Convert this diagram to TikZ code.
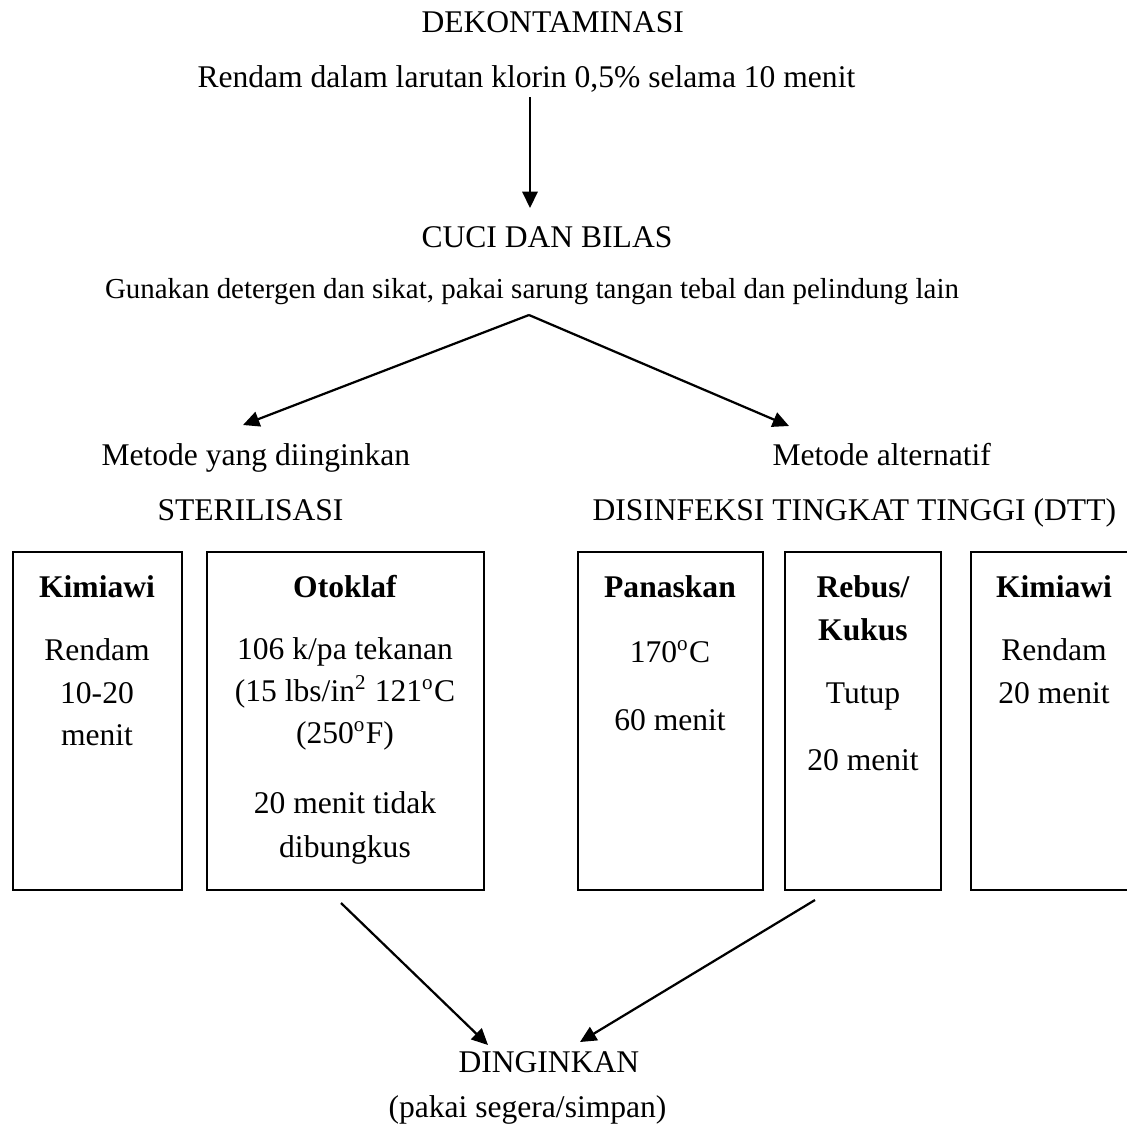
\documentclass[tikz,border=0pt]{standalone}
\usepackage{fontspec}
\setmainfont{Liberation Serif}
\usetikzlibrary{arrows.meta}

\begin{document}
\begin{tikzpicture}[
    x=0.38pt, y=-0.38pt,
    >={Triangle[length=6.2pt, width=5.8pt]},
    every node/.style={font=\fontsize{12}{16}\selectfont, inner sep=0pt},
    stagetext/.style={anchor=base west},
    boxtext/.style={anchor=base},
    boxhead/.style={anchor=base, font=\fontsize{12}{16}\selectfont\bfseries},
    flow/.style={->, line width=0.85pt, color=black},
    methodbox/.style={draw=black, line width=0.8pt}
]

    % Page frame
    \useasboundingbox (0,0) rectangle (1126,1132);

    % Decontamination
    \node[stagetext] (dekon) at (421,32) {DEKONTAMINASI};
    \node[stagetext] (rendam) at (197,87) {Rendam dalam larutan klorin 0,5\% selama 10 menit};

    % Wash and rinse
    \node[stagetext] (cuci) at (421,247) {CUCI DAN BILAS};
    \node[boxtext, font=\fontsize{11}{14}\selectfont] (gunakan) at (532,298) {Gunakan detergen dan sikat, pakai sarung tangan tebal dan pelindung lain};

    % Methods
    \node[stagetext] (metode1) at (101,465) {Metode yang diinginkan};
    \node[stagetext] (steril) at (157,520) {STERILISASI};
    \node[stagetext] (metode2) at (772,465) {Metode alternatif};
    \node[stagetext] (dtt) at (592,520) {DISINFEKSI TINGKAT TINGGI (DTT)};

    % Boxes
    \draw[methodbox] (13,552) rectangle (182,890);
    \draw[methodbox] (207,552) rectangle (484,890);
    \draw[methodbox] (578,552) rectangle (763,890);
    \draw[methodbox] (785,552) rectangle (941,890);
    \draw[methodbox] (971,552) rectangle (1140,890);

    % Kimiawi (sterilisasi)
    \node[boxhead] (kim1) at (97,597) {Kimiawi};
    \node[boxtext] (kim1a) at (97,660) {Rendam};
    \node[boxtext] (kim1b) at (97,703) {10-20};
    \node[boxtext] (kim1c) at (97,745) {menit};

    % Otoklaf
    \node[boxhead] (oto) at (345,597) {Otoklaf};
    \node[boxtext] (otoa) at (345,659) {106 k/pa tekanan};
    \node[boxtext] (otob) at (345,701) {(15 lbs/in\textsuperscript{2} 121\textsuperscript{o}C};
    \node[boxtext] (otoc) at (345,743) {(250\textsuperscript{o}F)};
    \node[boxtext] (otod) at (345,813) {20 menit tidak};
    \node[boxtext] (otoe) at (345,857) {dibungkus};

    % Panaskan
    \node[boxhead] (panas) at (670,597) {Panaskan};
    \node[boxtext] (panasa) at (670,662) {170\textsuperscript{o}C};
    \node[boxtext] (panasb) at (670,730) {60 menit};

    % Rebus/Kukus
    \node[boxhead] (rebus) at (863,597) {Rebus/};
    \node[boxhead] (kukus) at (863,640) {Kukus};
    \node[boxtext] (rebusa) at (863,703) {Tutup};
    \node[boxtext] (rebusb) at (863,770) {20 menit};

    % Kimiawi (DTT)
    \node[boxhead] (kim2) at (1054,597) {Kimiawi};
    \node[boxtext] (kim2a) at (1054,660) {Rendam};
    \node[boxtext] (kim2b) at (1054,703) {20 menit};

    % Cool down
    \node[stagetext] (dingin) at (458,1072) {DINGINKAN};
    \node[stagetext] (pakai) at (388,1117) {(pakai segera/simpan)};

    % Connector ends
    \coordinate (a0) at (530,97);
    \coordinate (a1) at (530,208);
    \coordinate (apex) at (529,315);
    \coordinate (left) at (243,425);
    \coordinate (right) at (789,426);
    \coordinate (b0) at (341,903);
    \coordinate (b1) at (488,1045);
    \coordinate (c0) at (815,900);
    \coordinate (c1) at (580,1042);

    % Arrows
    \draw[flow] (a0) -- (a1);
    \draw[flow] (apex) -- (left);
    \draw[flow] (apex) -- (right);
    \draw[flow] (b0) -- (b1);
    \draw[flow] (c0) -- (c1);

\end{tikzpicture}
\end{document}
